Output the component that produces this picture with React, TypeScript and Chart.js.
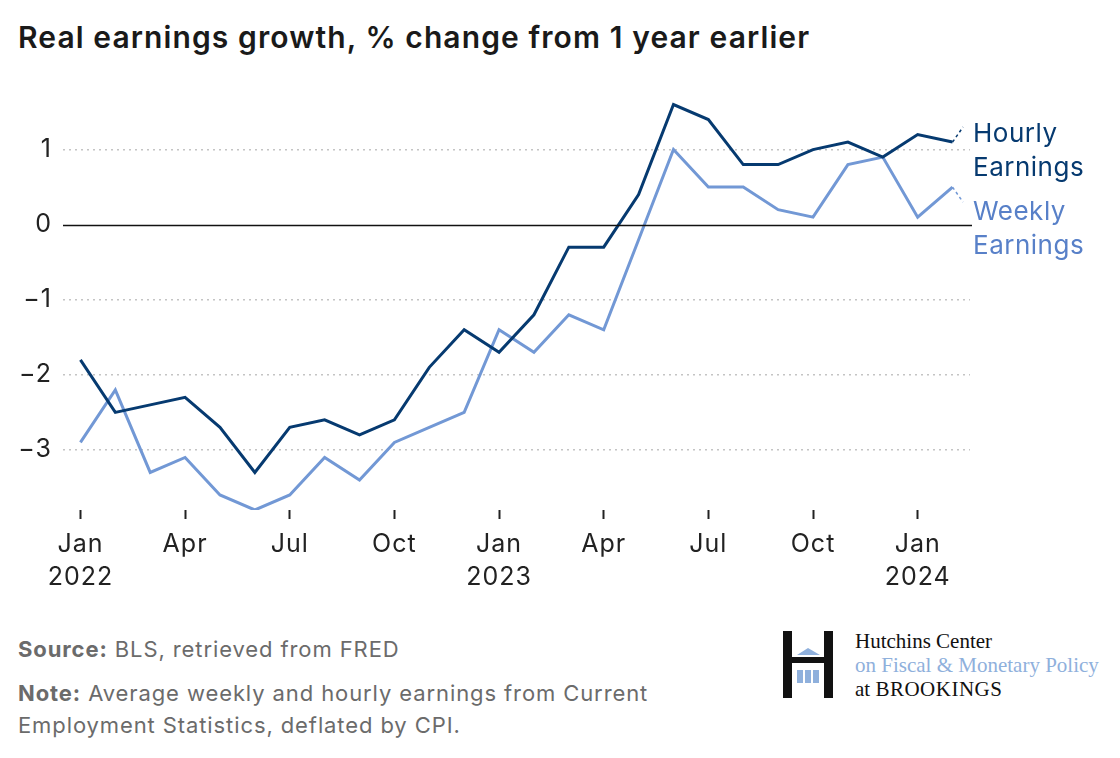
import React, { useEffect, useRef } from "react";
import { Chart, registerables } from "chart.js";

Chart.register(...registerables);

// Monthly data, Jan 2022 .. Feb 2024
const months = [
  "2022-01", "2022-02", "2022-03", "2022-04", "2022-05", "2022-06",
  "2022-07", "2022-08", "2022-09", "2022-10", "2022-11", "2022-12",
  "2023-01", "2023-02", "2023-03", "2023-04", "2023-05", "2023-06",
  "2023-07", "2023-08", "2023-09", "2023-10", "2023-11", "2023-12",
  "2024-01", "2024-02",
];
const hourlyEarnings = [
  -1.8, -2.5, -2.4, -2.3, -2.7, -3.3, -2.7, -2.6, -2.8, -2.6, -1.9, -1.4,
  -1.7, -1.2, -0.3, -0.3, 0.4, 1.6, 1.4, 0.8, 0.8, 1.0, 1.1, 0.9,
  1.2, 1.1,
];
const weeklyEarnings = [
  -2.9, -2.2, -3.3, -3.1, -3.6, -3.8, -3.6, -3.1, -3.4, -2.9, -2.7, -2.5,
  -1.4, -1.7, -1.2, -1.4, -0.2, 1.0, 0.5, 0.5, 0.2, 0.1, 0.8, 0.9,
  0.1, 0.5,
];
// label connector end points (value at label anchor)
const hourlyLabelAnchor = 1.3;
const weeklyLabelAnchor = 0.3;

const xTickValues = [0, 3, 6, 9, 12, 15, 18, 21, 24];
const xTickLabels: (string | string[])[] = [
  ["Jan", "2022"], "Apr", "Jul", "Oct", ["Jan", "2023"], "Apr", "Jul", "Oct", ["Jan", "2024"],
];
const yTickValues = [-3, -2, -1, 0, 1];

const DARK = "#063a70";
const LIGHT = "#7298d5";
const LIGHT_TEXT = "#5880c8";
const FONT = "Inter, 'Noto Sans', sans-serif";

const labelPlugin = {
  id: "endLabels",
  beforeDraw(chart: any) {
    chart.ctx.letterSpacing = "1px";
  },
  afterDraw(chart: any) {
    const { ctx, chartArea, scales } = chart;
    const y = scales.y;
    // zero line
    ctx.save();
    ctx.strokeStyle = "#111";
    ctx.lineWidth = 1.5;
    const y0 = Math.round(y.getPixelForValue(0)) + 0.5;
    ctx.beginPath();
    ctx.moveTo(chartArea.left, y0);
    ctx.lineTo(chartArea.right + 2, y0);
    ctx.stroke();

    ctx.letterSpacing = "0.5px";
    ctx.font = `26px ${FONT}`;
    ctx.textBaseline = "middle";
    ctx.textAlign = "left";
    const x = chartArea.right + 3;
    const hy = y.getPixelForValue(1.2);
    ctx.fillStyle = DARK;
    ctx.fillText("Hourly", x, hy);
    ctx.fillText("Earnings", x, hy + 34);
    const wy = y.getPixelForValue(0.16);
    ctx.fillStyle = LIGHT_TEXT;
    ctx.fillText("Weekly", x, wy);
    ctx.fillText("Earnings", x, wy + 34);
    ctx.restore();
  },
};

function ChartCanvas() {
  const ref = useRef<HTMLCanvasElement>(null);
  useEffect(() => {
    if (!ref.current) return;
    const last = months.length - 1;
    const chart = new Chart(ref.current, {
      type: "line",
      data: {
        datasets: [
          {
            label: "Hourly Earnings",
            data: hourlyEarnings.map((v, i) => ({ x: i, y: v })),
            borderColor: DARK,
            borderWidth: 3,
            pointRadius: 0,
            tension: 0,
          },
          {
            label: "Weekly Earnings",
            data: weeklyEarnings.map((v, i) => ({ x: i, y: v })),
            borderColor: LIGHT,
            borderWidth: 3,
            pointRadius: 0,
            tension: 0,
          },
          {
            label: "hourly connector",
            data: [
              { x: last, y: hourlyEarnings[last] },
              { x: last + 0.3, y: hourlyLabelAnchor },
            ],
            borderColor: DARK,
            borderWidth: 1.5,
            borderDash: [3, 3],
            pointRadius: 0,
          },
          {
            label: "weekly connector",
            data: [
              { x: last, y: weeklyEarnings[last] },
              { x: last + 0.3, y: weeklyLabelAnchor },
            ],
            borderColor: LIGHT,
            borderWidth: 1.5,
            borderDash: [3, 3],
            pointRadius: 0,
          },
        ],
      },
      options: {
        animation: false,
        responsive: false,
        maintainAspectRatio: false,
        layout: { padding: { left: 0, right: 150, top: 97, bottom: 600 - 510 - 90 } },
        plugins: { legend: { display: false }, tooltip: { enabled: false } },
        scales: {
          x: {
            type: "linear",
            min: -0.5,
            max: 25.5,
            afterBuildTicks: (s: any) => {
              s.ticks = xTickValues.map((v) => ({ value: v }));
            },
            afterFit: (s: any) => {
              s.height = 90;
            },
            border: { display: false },
            grid: {
              drawOnChartArea: false,
              drawTicks: true,
              tickLength: 9,
              tickWidth: 2,
              tickColor: "#222",
            },
            ticks: {
              autoSkip: false,
              maxRotation: 0,
              padding: 9,
              color: "#222",
              font: { family: FONT, size: 25, lineHeight: 1.32 },
              callback: (v: any) => {
                const i = xTickValues.indexOf(Number(v));
                return i >= 0 ? xTickLabels[i] : "";
              },
            },
          },
          y: {
            min: -3.8,
            max: 1.7,
            afterBuildTicks: (s: any) => {
              s.ticks = yTickValues.map((v) => ({ value: v }));
            },
            afterFit: (s: any) => {
              s.width = 63;
            },
            border: { display: false, dash: [2, 4] },
            grid: {
              drawTicks: false,
              lineWidth: 1.5,
              color: (c: any) => (c.tick && c.tick.value === 0 ? "rgba(0,0,0,0)" : "#c4c4c4"),
            },
            ticks: {
              padding: 11,
              color: "#222",
              font: { family: FONT, size: 25 },
              callback: (v: any) => (Number(v) < 0 ? "\u2212" + Math.abs(Number(v)) : String(v)),
            },
          },
        },
      },
      plugins: [labelPlugin],
    });
    return () => chart.destroy();
  }, []);
  return (
    <canvas
      ref={ref}
      width={1120}
      height={600}
      style={{ position: "absolute", left: 0, top: 0, width: 1120, height: 600 }}
    />
  );
}

function Logo() {
  return (
    <div style={{ position: "absolute", left: 783, top: 628, width: 336, height: 72 }}>
      <svg width={52} height={70} style={{ position: "absolute", left: 0, top: 3 }}>
        <rect x={0} y={0} width={9} height={67} fill="#111" />
        <rect x={41} y={0} width={9} height={67} fill="#111" />
        <rect x={9} y={26} width={32} height={6} fill="#111" />
        <polygon points="14,24 25,17 37,24" fill="#8fb0dc" />
        <rect x={14} y={39} width={6} height={13} fill="#8fb0dc" />
        <rect x={22} y={39} width={6} height={13} fill="#8fb0dc" />
        <rect x={30} y={39} width={6} height={13} fill="#8fb0dc" />
      </svg>
      <div
        style={{
          position: "absolute",
          left: 72,
          top: 1,
          fontFamily: "'Liberation Serif', 'DejaVu Serif', serif",
          fontSize: 21,
          lineHeight: "24px",
          whiteSpace: "nowrap",
        }}
      >
        <div style={{ color: "#111" }}>Hutchins Center</div>
        <div style={{ color: "#8fb0dc" }}>on Fiscal &amp; Monetary Policy</div>
        <div style={{ color: "#111" }}>
          at <span style={{ letterSpacing: 0.5 }}>BROOKINGS</span>
        </div>
      </div>
    </div>
  );
}

export default function App() {
  useEffect(() => {
    document.body.style.margin = "0";
  }, []);
  return (
    <div
      style={{
        position: "absolute",
        left: 0,
        top: 0,
        width: 1120,
        height: 758,
        background: "#fff",
        overflow: "hidden",
        fontFamily: FONT,
      }}
    >
      <div
        style={{
          position: "absolute",
          left: 18,
          top: 19,
          fontSize: 30,
          fontWeight: 600,
          color: "#1a1a1a",
          whiteSpace: "nowrap",
          letterSpacing: 1.1,
        }}
      >
        Real earnings growth, % change from 1 year earlier
      </div>
      <ChartCanvas />
      <div
        style={{
          position: "absolute",
          left: 18,
          top: 633,
          fontSize: 22,
          color: "#6b6b6b",
          lineHeight: "32px",
          width: 740,
          letterSpacing: 0.9,
        }}
      >
        <div>
          <b style={{ fontWeight: 700 }}>Source:</b> BLS, retrieved from FRED
        </div>
        <div style={{ marginTop: 12 }}>
          <b style={{ fontWeight: 700 }}>Note:</b> Average weekly and hourly earnings from Current
          <br />
          Employment Statistics, deflated by CPI.
        </div>
      </div>
      <Logo />
    </div>
  );
}
